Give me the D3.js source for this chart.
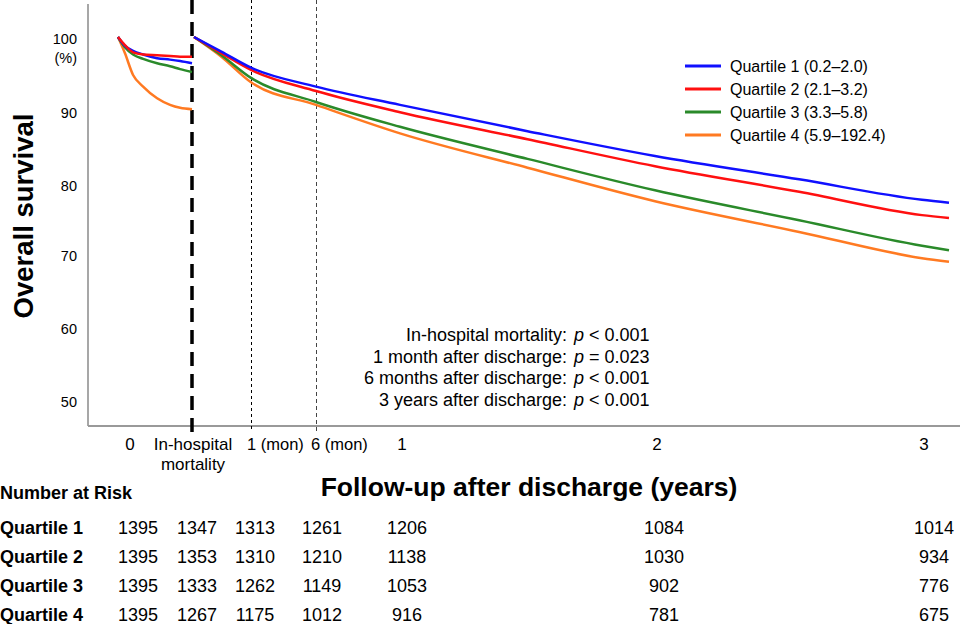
<!DOCTYPE html>
<html>
<head>
<meta charset="utf-8">
<script src="https://cdn.jsdelivr.net/npm/d3@7"></script>
<style>
  body { margin: 0; background: #fff; }
  text { font-family: Arial, "Liberation Sans", sans-serif; fill: #000; }
</style>
</head>
<body>
<svg id="chart" width="960" height="624"></svg>
<script>
// ---- data
var quartiles = ["Quartile 1 (0.2–2.0)", "Quartile 2 (2.1–3.2)", "Quartile 3 (3.3–5.8)", "Quartile 4 (5.9–192.4)"];
var colors = ["#1010ff", "#ff1010", "#2a8a2a", "#ff7a22"];

// in-hospital phase (days since admission)
var hospDays = [0, 2.6, 5.7, 9.5, 14.8, 19.7, 23.5, 28];
var hospQ1 = [100, 98.8, 98.1, 97.6, 97.1, 96.9, 96.7, 96.4];
var hospQ2 = [100, 98.9, 97.9, 97.6, 97.5, 97.4, 97.3, 97.3];
var hospQ3 = [100, 98.6, 97.6, 97.0, 96.4, 96.0, 95.6, 95.2];
var hospQ4 = [100, 97.8, 94.8, 93.2, 91.6, 90.7, 90.3, 90.1];

// after discharge (years)
var fuYears = [0, 0.04, 1 / 12, 0.5, 1, 1.5, 2, 2.54, 3, 3.1];
var fuQ1 = [100, 98.0, 95.8, 93.2, 90.7, 87.1, 83.7, 80.5, 77.7, 77.3];
var fuQ2 = [100, 97.8, 95.5, 92.6, 89.7, 86.0, 82.3, 78.8, 75.6, 75.2];
var fuQ3 = [100, 97.5, 94.4, 91.1, 87.7, 83.3, 79.0, 74.9, 71.4, 70.8];
var fuQ4 = [100, 97.3, 93.8, 90.7, 86.8, 82.1, 77.5, 73.3, 69.7, 69.2];

var yTicks = [100, 90, 80, 70, 60, 50];
var pLines = [
  ["In-hospital mortality:", "<", "0.001"],
  ["1 month after discharge:", "=", "0.023"],
  ["6 months after discharge:", "<", "0.001"],
  ["3 years after discharge:", "<", "0.001"]
];
var riskLabels = ["Quartile 1", "Quartile 2", "Quartile 3", "Quartile 4"];
var riskQ1 = [1395, 1347, 1313, 1261, 1206, 1084, 1014];
var riskQ2 = [1395, 1353, 1310, 1210, 1138, 1030, 934];
var riskQ3 = [1395, 1333, 1262, 1149, 1053, 902, 776];
var riskQ4 = [1395, 1267, 1175, 1012, 916, 781, 675];

var hospSeries = [hospQ1, hospQ2, hospQ3, hospQ4];
var fuSeries = [fuQ1, fuQ2, fuQ3, fuQ4];
var riskRows = [riskQ1, riskQ2, riskQ3, riskQ4];

// ---- scales
var svg = d3.select("#chart");
var axisLeftX = 88, axisY = 426;
var y = d3.scaleLinear().domain([50, 100]).range([402, 37]);
var hx = d3.scaleLinear().domain([0, 28]).range([118, 192]);
// follow-up axis is stretched for the first year
var x = d3.scaleLinear().domain([0, 1 / 12, 0.5, 1, 2, 3, 3.1]).range([194, 251, 316, 400, 655, 922, 949]);

// ---- axes frame
svg.append("line").attr("x1", axisLeftX).attr("x2", axisLeftX).attr("y1", 4).attr("y2", axisY)
  .attr("stroke", "#8a8a8a").attr("stroke-width", 1.5);
svg.append("line").attr("x1", axisLeftX).attr("x2", 960).attr("y1", axisY).attr("y2", axisY)
  .attr("stroke", "#999").attr("stroke-width", 2);

var yAxis = svg.append("g").attr("transform", "translate(77,0)")
  .call(d3.axisLeft(y).tickValues(yTicks).tickSize(0).tickPadding(0));
yAxis.select(".domain").remove();
yAxis.selectAll("text").attr("font-size", 14.5).attr("font-family", "Arial, 'Liberation Sans', sans-serif")
  .attr("dy", (d) => d == 100 ? "0.45em" : (d >= 80 ? "0.55em" : "0.32em"));
svg.append("text").attr("x", 77).attr("y", y(100) + 26).attr("text-anchor", "end")
  .attr("font-size", 14.5).text("(%)");

// ---- reference lines
svg.append("line").attr("x1", hx(28)).attr("x2", hx(28)).attr("y1", 0).attr("y2", 433)
  .attr("stroke", "#000").attr("stroke-width", 3.5).attr("stroke-dasharray", "14,8");
svg.append("line").attr("x1", Math.round(x(1 / 12)) + 0.5).attr("x2", Math.round(x(1 / 12)) + 0.5).attr("y1", 0).attr("y2", 431)
  .attr("stroke", "#000").attr("stroke-width", 1).attr("stroke-dasharray", "3,3");
svg.append("line").attr("x1", Math.round(x(0.5)) + 0.5).attr("x2", Math.round(x(0.5)) + 0.5).attr("y1", 0).attr("y2", 431)
  .attr("stroke", "#444").attr("stroke-width", 1).attr("stroke-dasharray", "4,3");

// ---- survival curves
var hospLine = d3.line().x((d, i) => hx(hospDays[i])).y(d => y(d)).curve(d3.curveMonotoneX);
var fuLine = d3.line().x((d, i) => x(fuYears[i])).y(d => y(d)).curve(d3.curveMonotoneX);
[3, 2, 0, 1].forEach(function (k) {
  svg.append("path").attr("d", hospLine(hospSeries[k])).attr("fill", "none")
    .attr("stroke", colors[k]).attr("stroke-width", 2.5);
});
[3, 2, 1, 0].forEach(function (k) {
  svg.append("path").attr("d", fuLine(fuSeries[k])).attr("fill", "none")
    .attr("stroke", colors[k]).attr("stroke-width", 2.5);
});

// ---- x tick labels
var fs = "17px";
var xl = svg.append("g");
xl.append("text").attr("x", hx(0) + 12).attr("y", 450).attr("text-anchor", "middle").style("font-size", fs).text("0");
xl.append("text").attr("x", hx(28) + 1).attr("y", 450).attr("text-anchor", "middle").style("font-size", fs).text("In-hospital");
xl.append("text").attr("x", hx(28) + 1).attr("y", 470).attr("text-anchor", "middle").style("font-size", fs).text("mortality");
xl.append("text").attr("x", x(1 / 12) - 4).attr("y", 450).style("font-size", "16.5px").text("1 (mon)");
xl.append("text").attr("x", x(0.5) - 5).attr("y", 450).style("font-size", "16.5px").text("6 (mon)");
[1, 2, 3].forEach(function (t) {
  xl.append("text").attr("x", x(t) + 2).attr("y", 450).attr("text-anchor", "middle").style("font-size", fs).text(t);
});

// ---- axis titles
svg.append("text").attr("transform", "translate(33,216) rotate(-90)").attr("text-anchor", "middle")
  .attr("font-weight", "bold").attr("font-size", 27.5).text("Overall survival");
svg.append("text").attr("x", 529).attr("y", 496).attr("text-anchor", "middle")
  .attr("font-weight", "bold").attr("font-size", 26.5).text("Follow-up after discharge (years)");

// ---- legend
var lg = svg.append("g");
quartiles.forEach(function (q, i) {
  var ly = 66 + i * 23;
  lg.append("line").attr("x1", 685).attr("x2", 721).attr("y1", ly).attr("y2", ly)
    .attr("stroke", colors[i]).attr("stroke-width", 3);
  lg.append("text").attr("x", 730).attr("y", ly + 5.5).attr("font-size", 16).text(q);
});

// ---- p values
pLines.forEach(function (p, i) {
  var py = 341 + i * 21.5;
  svg.append("text").attr("x", 567).attr("y", py).attr("text-anchor", "end").attr("font-size", 18).text(p[0]);
  var t2 = svg.append("text").attr("x", 574).attr("y", py).attr("font-size", 18);
  t2.append("tspan").attr("font-style", "italic").text("p");
  t2.append("tspan").text(" " + p[1] + " " + p[2]);
});

// ---- number at risk table
svg.append("text").attr("x", 0).attr("y", 499).attr("font-weight", "bold").attr("font-size", 18)
  .text("Number at Risk");
var colX = [hx(0) + 20, hx(28) + 5, x(1 / 12) + 4, x(0.5) + 6, x(1) + 7, x(2) + 9, x(3) + 12];
riskRows.forEach(function (row, r) {
  var ry = 534 + r * 29;
  svg.append("text").attr("x", 0).attr("y", ry).attr("font-weight", "bold").attr("font-size", 18)
    .text(riskLabels[r]);
  svg.selectAll(".risk" + r).data(row).join("text").attr("class", "risk" + r)
    .attr("x", (d, i) => colX[i]).attr("y", ry).attr("text-anchor", "middle")
    .attr("font-size", 18).text(d => d);
});
</script>
</body>
</html>
